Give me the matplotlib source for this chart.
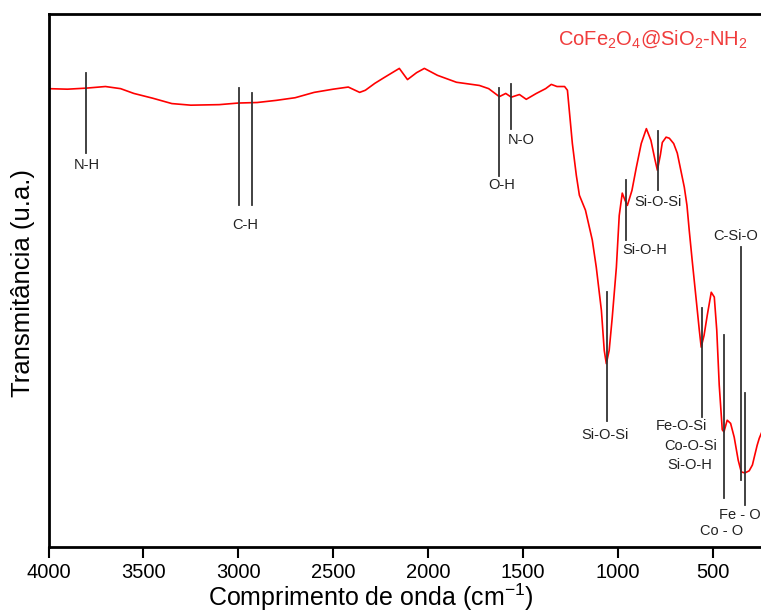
import matplotlib
matplotlib.use("Agg")
import matplotlib.pyplot as plt

plt.rcParams['font.family'] = ['Liberation Sans', 'DejaVu Sans']
plt.rcParams['mathtext.fontset'] = 'custom'
plt.rcParams['mathtext.rm'] = 'Liberation Sans'
plt.rcParams['mathtext.it'] = 'Liberation Sans'

#%% FTIR spectrum (wavenumber in cm-1, transmittance in arbitrary units)
wavenumber = [4000, 3900, 3800, 3700, 3620, 3550, 3450, 3350, 3250, 3100,
              3000, 2900, 2800, 2700, 2600, 2500, 2420, 2360, 2330, 2280,
              2230, 2151, 2108, 2060, 2019, 1950, 1850, 1729, 1680, 1624,
              1590, 1561, 1518, 1482, 1429, 1380, 1350, 1320, 1280, 1265,
              1239, 1218, 1202, 1170, 1134, 1113, 1086, 1071, 1060, 1045,
              1029, 1007, 992, 976, 962, 949, 925, 902, 876, 849,
              825, 805, 791, 775, 765, 745, 728, 705, 686, 649,
              635, 623, 607, 586, 570, 560, 545, 528, 507, 491,
              478, 465, 449, 440, 423, 405, 386, 365, 349, 330,
              307, 290, 280, 265, 254, 240]
transmittance = [85.9, 85.8, 86.0, 86.3, 85.9, 85.0, 84.1, 83.1, 82.8, 82.9,
                 83.2, 83.3, 83.7, 84.2, 85.2, 85.8, 86.2, 85.2, 85.6, 86.9,
                 88.0, 89.7, 87.6, 88.9, 89.7, 88.4, 87.1, 86.5, 85.9, 84.4,
                 85.0, 84.3, 84.8, 83.9, 85.0, 85.9, 86.7, 86.3, 86.3, 85.6,
                 75.6, 69.6, 65.9, 63.1, 57.5, 52.4, 44.3, 36.8, 34.3, 36.8,
                 42.9, 52.4, 62.1, 66.3, 65.0, 64.0, 66.8, 71.1, 75.6, 78.4,
                 76.2, 72.8, 70.6, 73.5, 75.8, 76.8, 76.6, 75.6, 73.8, 67.4,
                 64.0, 59.3, 53.5, 46.2, 40.6, 37.4, 39.6, 43.4, 47.7, 46.8,
                 40.6, 30.3, 21.9, 21.5, 23.7, 23.1, 20.5, 16.2, 14.0, 13.8,
                 14.2, 15.3, 16.8, 19.0, 20.3, 21.5]

# band assignments: (wavenumber, line top, line bottom)
bands = [(3800, 88.8, 73.9), (2996, 86.1, 64.0), (2925, 85.0, 64.0),
         (1624, 86.1, 69.6), (1562, 86.7, 78.4), (955, 68.7, 57.5),
         (786, 77.9, 66.8), (1058, 47.7, 23.5), (555, 44.7, 24.3),
         (438, 39.6, 9.1), (328, 28.8, 7.8), (350, 56.1, 12.5)]

# band labels: (text, wavenumber, y, horizontal alignment)
band_labels = [("N-H", 3800, 71.5, 'center'), ("C-H", 2963, 60.4, 'center'),
               ("O-H", 1613, 67.8, 'center'), ("N-O", 1508, 76.2, 'center'),
               ("Si-O-H", 855, 55.6, 'center'), ("Si-O-Si", 786, 64.6, 'center'),
               ("Si-O-Si", 1065, 20.9, 'center'), ("Fe-O-Si", 662, 22.6, 'center'),
               ("Co-O-Si", 615, 18.8, 'center'), ("Si-O-H", 620, 15.3, 'center'),
               ("Co - O", 452, 2.9, 'center'), ("Fe - O", 465, 5.9, 'left'),
               ("C-Si-O", 378, 58.2, 'center')]

#%% Plot
fig = plt.figure(figsize=(7.61, 6.13), dpi=100)
ax = fig.add_axes([48.5/761, 1 - 546.5/613, 721/761, 533/613])

ax.plot(wavenumber, transmittance, color='red', lw=1.2)

for wn, top, bot in bands:
    ax.plot([wn, wn], [bot, top], color='#333333', lw=1.3)
for txt, wn, yy, ha in band_labels:
    ax.text(wn, yy, txt, ha=ha, va='center', fontsize=10.5, color='#222222')

fig.text(653/761, 1 - 39/613, r'CoFe$_2$O$_4$@SiO$_2$-NH$_2$',
         ha='center', va='center', fontsize=14.5, color='#f03c3c')

ax.set_xlim(4000, 200)
ax.set_ylim(0, 100)
ax.set_xticks([4000, 3500, 3000, 2500, 2000, 1500, 1000, 500])
ax.set_yticks([])
ax.tick_params(axis='x', direction='out', length=8, width=1.5, labelsize=14.5, pad=4)
for s in ['left', 'bottom', 'top']:
    ax.spines[s].set_linewidth(2)
ax.spines['right'].set_visible(False)

fig.text(371/761, 1 - 597/613, r'Comprimento de onda (cm$^{-1}$)',
         ha='center', va='center', fontsize=18)
fig.text(23/761, 1 - 283/613, 'Transmitância (u.a.)', rotation=90,
         ha='center', va='center', fontsize=18.5)

fig.savefig('out.png', dpi=100)
